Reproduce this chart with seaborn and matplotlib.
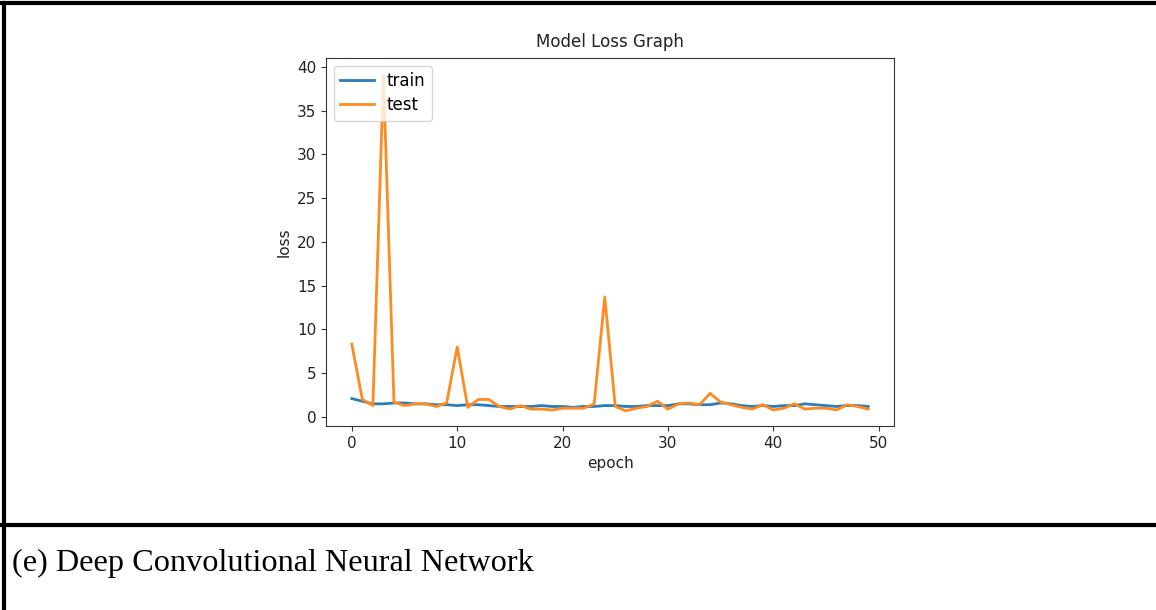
import numpy as np
import pandas as pd
import matplotlib
matplotlib.use("Agg")
import matplotlib.pyplot as plt
import seaborn as sns
from matplotlib.lines import Line2D

epochs = list(range(50))
train_loss = [2.1, 1.8, 1.5, 1.5, 1.6, 1.6, 1.5, 1.5, 1.4, 1.4,
              1.3, 1.4, 1.4, 1.3, 1.2, 1.2, 1.2, 1.2, 1.3, 1.2,
              1.2, 1.1, 1.2, 1.2, 1.3, 1.3, 1.2, 1.2, 1.3, 1.3,
              1.3, 1.5, 1.5, 1.4, 1.4, 1.6, 1.5, 1.3, 1.2, 1.3,
              1.2, 1.3, 1.3, 1.5, 1.4, 1.3, 1.2, 1.3, 1.3, 1.2]
test_loss = [8.3, 2.0, 1.3, 39.0, 1.7, 1.3, 1.5, 1.5, 1.2, 1.6,
             8.0, 1.1, 2.0, 2.0, 1.2, 0.9, 1.3, 0.9, 0.9, 0.8,
             1.0, 1.0, 1.0, 1.5, 13.7, 1.2, 0.7, 1.0, 1.2, 1.8,
             0.9, 1.5, 1.6, 1.4, 2.7, 1.7, 1.4, 1.1, 0.9, 1.4,
             0.8, 1.0, 1.5, 0.9, 1.0, 1.0, 0.8, 1.4, 1.2, 0.9]
series_names = ["train", "test"]
title_text = "Model Loss Graph"
caption_text = "(e) Deep Convolutional Neural Network"

df = pd.DataFrame({
    "epoch": epochs * 2,
    "loss": train_loss + test_loss,
    "series": [series_names[0]] * 50 + [series_names[1]] * 50,
})

plt.rcParams["font.family"] = ["DejaVu Sans"]
W, H = 1156, 610
fig = plt.figure(figsize=(W / 100, H / 100), dpi=100)

# axes placement in pixels
l, r, t, b = 326, 894, 58, 426
ax = fig.add_axes([l / W, 1 - b / H, (r - l) / W, (b - t) / H])
sns.lineplot(data=df, x="epoch", y="loss", hue="series",
             palette=["#2a7dbb", "#ff8a1f"], ax=ax, linewidth=2.0)
ax.set_xlim(-2.45, 51.45)
ax.set_ylim(-1.03, 41.0)
ax.set_xticks([0, 10, 20, 30, 40, 50])
ax.set_yticks([0, 5, 10, 15, 20, 25, 30, 35, 40])
ax.tick_params(labelsize=11, colors="#333333", labelcolor="#222222")
ax.set_title(title_text, fontsize=12, color="#222222", pad=8)
ax.set_xlabel("epoch", fontsize=11, color="#222222")
ax.set_ylabel("loss", fontsize=11, color="#222222")
for s in ax.spines.values():
    s.set_color("#333333")
leg = ax.legend(loc="upper left", fontsize=12, frameon=True,
                borderaxespad=0.45, handlelength=2.0, labelspacing=0.35)
leg.set_title(None)

# table borders
def hline(y, x0=0, x1=W, lw=3.0):
    fig.add_artist(Line2D([x0 / W, x1 / W], [1 - y / H, 1 - y / H],
                          color="black", linewidth=lw, transform=fig.transFigure))

hline(3)
hline(525)
fig.add_artist(Line2D([4 / W, 4 / W], [0, 1 - 3 / H], color="black",
                      linewidth=3.0, transform=fig.transFigure))

fig.text(12 / W, 1 - 563 / H, caption_text, fontsize=23.2,
         family="Liberation Serif", va="center", ha="left", color="black")

fig.savefig("out.png", dpi=100)
